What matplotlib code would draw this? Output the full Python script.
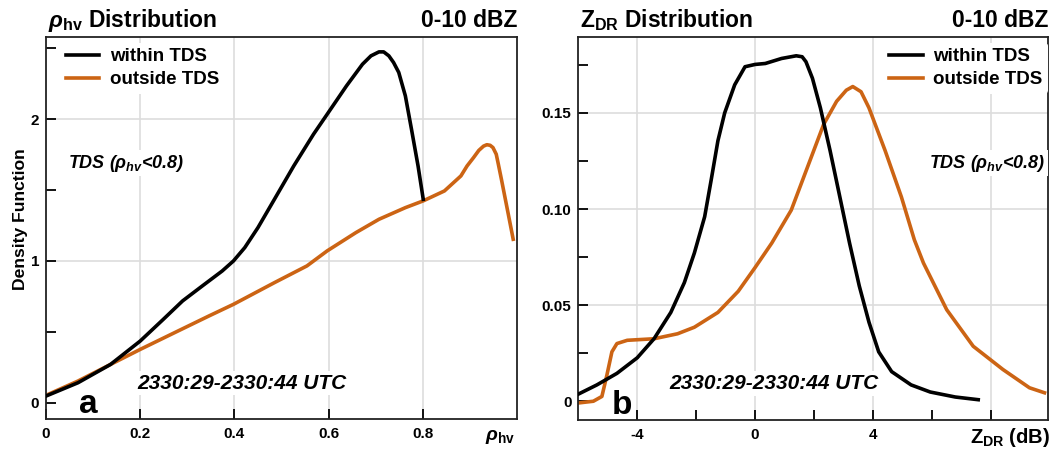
import matplotlib
matplotlib.use("Agg")
import matplotlib.pyplot as plt

plt.rcParams['font.family'] = ['Liberation Sans', 'DejaVu Sans']
plt.rcParams['font.weight'] = 'bold'
plt.rcParams['mathtext.fontset'] = 'custom'
plt.rcParams['mathtext.rm'] = 'Liberation Sans:bold'
plt.rcParams['mathtext.bf'] = 'Liberation Sans:bold'
plt.rcParams['mathtext.it'] = 'Liberation Sans:italic:bold'

# rho_hv distribution (panel a)
rho_in_x = [0.0, 0.068, 0.137, 0.2, 0.249, 0.29, 0.332, 0.374, 0.398, 0.422, 0.45,
            0.485, 0.526, 0.568, 0.597, 0.638, 0.672, 0.69, 0.707, 0.717, 0.728,
            0.738, 0.749, 0.763, 0.776, 0.79, 0.801]
rho_in_y = [0.047, 0.141, 0.27, 0.435, 0.588, 0.718, 0.824, 0.929, 1.0, 1.094, 1.235,
            1.435, 1.67, 1.894, 2.035, 2.235, 2.388, 2.447, 2.475, 2.475, 2.447,
            2.4, 2.33, 2.165, 1.93, 1.67, 1.435]
rho_out_x = [0.0, 0.068, 0.137, 0.2, 0.276, 0.346, 0.398, 0.485, 0.554, 0.597, 0.658,
             0.707, 0.763, 0.801, 0.846, 0.881, 0.894, 0.908, 0.919, 0.929, 0.936,
             0.943, 0.949, 0.956, 0.96, 0.967, 0.981, 0.992]
rho_out_y = [0.052, 0.153, 0.27, 0.376, 0.499, 0.612, 0.694, 0.847, 0.965, 1.071, 1.2,
             1.294, 1.376, 1.424, 1.494, 1.6, 1.67, 1.73, 1.78, 1.81, 1.82,
             1.816, 1.80, 1.753, 1.69, 1.576, 1.34, 1.153]

# ZDR distribution (panel b)
zdr_in_x = [-6.0, -5.37, -4.69, -4.0, -3.43, -2.86, -2.4, -2.06, -1.71, -1.49, -1.26,
            -1.03, -0.69, -0.34, 0.0, 0.35, 0.9, 1.4, 1.6, 1.73, 1.95, 2.22, 2.55, 2.88,
            3.21, 3.54, 3.87, 4.2, 4.64, 5.3, 5.95, 6.8, 7.58]
zdr_in_y = [0.0037, 0.0085, 0.0145, 0.0226, 0.0325, 0.0462, 0.0617, 0.0771, 0.096,
            0.115, 0.1355, 0.15, 0.1646, 0.174, 0.1752, 0.1757, 0.1783, 0.1797, 0.1792,
            0.1766, 0.168, 0.1526, 0.1303, 0.1063, 0.0823, 0.06, 0.0411, 0.0257, 0.0154,
            0.0085, 0.0048, 0.0022, 0.0008]
zdr_out_x = [-6.0, -5.49, -5.2, -5.03, -4.86, -4.69, -4.34, -3.43, -2.63, -2.06, -1.26,
             -0.57, 0.0, 0.57, 1.23, 1.78, 2.33, 2.77, 3.1, 3.32, 3.6, 3.87, 4.42,
             4.97, 5.41, 5.72, 6.51, 7.41, 8.42, 9.32, 9.83]
zdr_out_y = [-0.0009, 0.0, 0.0025, 0.0136, 0.0257, 0.03, 0.0317, 0.0325, 0.0351,
             0.0385, 0.0462, 0.0572, 0.0695, 0.0823, 0.0994, 0.1217, 0.144, 0.156,
             0.1618, 0.1637, 0.161, 0.1526, 0.1303, 0.1063, 0.084, 0.0719, 0.0476,
             0.0286, 0.0165, 0.007, 0.0044]

series_labels = ['within TDS', 'outside TDS']
ORANGE = '#cc6414'
GRID = '#dddddd'

fig = plt.figure(figsize=(10.6, 4.49), dpi=100)
ax1 = fig.add_axes([0.0434, 0.0668, 0.4443, 0.8508])
ax2 = fig.add_axes([0.5456, 0.0657, 0.4431, 0.852])


def style_axes(ax, xgrid, ygrid, xmaj, xlab, xmin, ymaj, ylab, ymin):
    for v in xgrid:
        ax.axvline(v, color=GRID, lw=1.2, zorder=0)
    for v in ygrid:
        ax.axhline(v, color=GRID, lw=1.2, zorder=0)
    ax.set_xticks(xmaj)
    ax.set_xticklabels(xlab)
    ax.set_xticks(xmin, minor=True)
    ax.set_yticks(ymaj)
    ax.set_yticklabels(ylab)
    ax.set_yticks(ymin, minor=True)
    ax.tick_params(which='both', direction='in', length=7, width=1.3,
                   labelsize=11, top=False, right=False)
    ax.tick_params(axis='x', which='both', pad=6)
    ax.tick_params(axis='y', which='both', pad=5)
    for s in ax.spines.values():
        s.set_linewidth(1.3)
        s.set_color('#222222')


def add_legend(ax, handles, loc, anchor):
    leg = ax.legend(handles, series_labels, loc=loc, bbox_to_anchor=anchor,
                    fontsize=13.5, handlelength=1.8, handletextpad=0.55, frameon=True,
                    framealpha=1, edgecolor='none', borderaxespad=0.3,
                    labelspacing=0.3, borderpad=0.3)
    leg.set_zorder(4)
    return leg


# panel a
l1, = ax1.plot(rho_in_x, rho_in_y, color='black', lw=2.6, zorder=3)
l2, = ax1.plot(rho_out_x, rho_out_y, color=ORANGE, lw=2.6, zorder=2)
ax1.set_xlim(0, 1.0)
ax1.set_ylim(-0.115, 2.58)
style_axes(ax1, [0.2, 0.4, 0.6, 0.8], [1, 2],
           [0, 0.2, 0.4, 0.6, 0.8], ['0', '0.2', '0.4', '0.6', '0.8'], [],
           [0, 1, 2], ['0', '1', '2'], [0.5, 1.5, 2.5])
add_legend(ax1, [l1, l2], 'upper left', (0.018, 1.0))
ax1.text(0.047, 0.67, r'TDS ($\rho_{hv}$<0.8)', transform=ax1.transAxes, fontsize=13,
         style='italic', va='center', ha='left', zorder=5,
         bbox=dict(facecolor='white', edgecolor='none', pad=2))
ax1.text(0.193, 0.094, '2330:29-2330:44 UTC', transform=ax1.transAxes, fontsize=15,
         style='italic', va='center', ha='left', zorder=5,
         bbox=dict(facecolor='white', edgecolor='none', pad=2))
ax1.text(0.07, 0.037, 'a', transform=ax1.transAxes, fontsize=24, va='center', ha='left')
ax1.text(0.004, 1.026, r'$\rho_{\mathbf{hv}}$ Distribution', transform=ax1.transAxes,
         fontsize=16.5, ha='left', va='baseline')
ax1.text(1.0, 1.026, '0-10 dBZ', transform=ax1.transAxes, fontsize=16.5,
         ha='right', va='baseline')
ax1.text(0.996, -0.047, r'$\rho_{\mathbf{hv}}$', transform=ax1.transAxes, fontsize=14,
         ha='right', va='center')
fig.text(0.019, 0.512, 'Density Function', rotation=90, fontsize=12.6,
         ha='center', va='center')

# panel b
m1, = ax2.plot(zdr_in_x, zdr_in_y, color='black', lw=2.6, zorder=3)
m2, = ax2.plot(zdr_out_x, zdr_out_y, color=ORANGE, lw=2.6, zorder=2)
ax2.set_xlim(-6.0, 9.95)
ax2.set_ylim(-0.0095, 0.1895)
style_axes(ax2, [-4, 0, 4, 8], [0.05, 0.10, 0.15],
           [-4, 0, 4, 8], ['-4', '0', '4', ''], [-2, 2, 6],
           [0, 0.05, 0.10, 0.15], ['0', '0.05', '0.10', '0.15'],
           [0.025, 0.075, 0.125, 0.175])
add_legend(ax2, [m1, m2], 'upper right', (1.012, 1.0))
ax2.text(0.994, 0.67, r'TDS ($\rho_{hv}$<0.8)', transform=ax2.transAxes, fontsize=13,
         style='italic', va='center', ha='right', zorder=5,
         bbox=dict(facecolor='white', edgecolor='none', pad=2))
ax2.text(0.194, 0.094, '2330:29-2330:44 UTC', transform=ax2.transAxes, fontsize=15,
         style='italic', va='center', ha='left', zorder=5,
         bbox=dict(facecolor='white', edgecolor='none', pad=2))
ax2.text(0.072, 0.037, 'b', transform=ax2.transAxes, fontsize=24, va='center', ha='left')
ax2.text(0.004, 1.026, r'$\mathbf{Z}_{\mathbf{DR}}$ Distribution', transform=ax2.transAxes,
         fontsize=16.5, ha='left', va='baseline')
ax2.text(1.0, 1.026, '0-10 dBZ', transform=ax2.transAxes, fontsize=16.5,
         ha='right', va='baseline')
ax2.text(1.004, -0.047, r'$\mathbf{Z}_{\mathbf{DR}}$ (dB)', transform=ax2.transAxes,
         fontsize=14.5, ha='right', va='center')

fig.savefig('out.png', dpi=100)
